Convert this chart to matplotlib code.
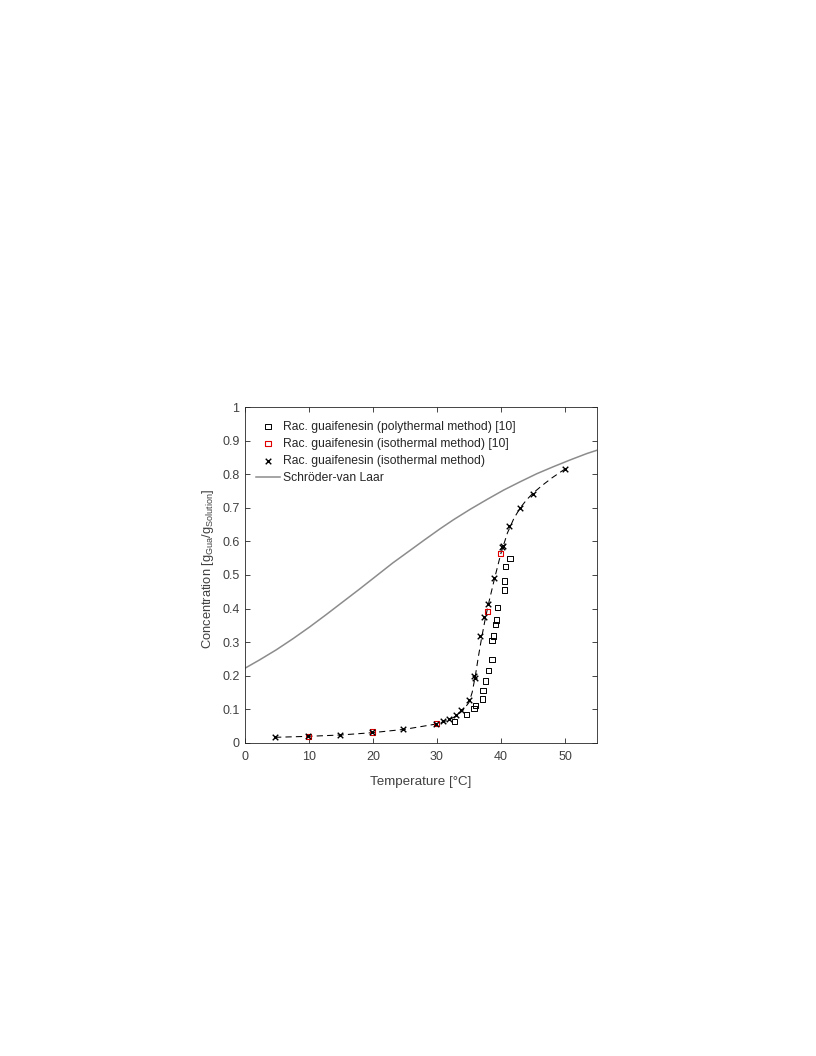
import matplotlib

matplotlib.use("Agg")
import matplotlib.pyplot as plt

plt.rcParams["font.family"] = ["Liberation Sans", "DejaVu Sans"]
plt.rcParams["mathtext.fontset"] = "custom"
plt.rcParams["mathtext.rm"] = "Liberation Sans"
plt.rcParams["mathtext.it"] = "Liberation Sans"

# polythermal method [10], black open squares
poly_T = [32.8, 34.6, 35.8, 36.0, 37.1, 37.2, 37.6, 38.0, 38.6, 38.6, 38.8,
          39.1, 39.3, 39.4, 40.5, 40.5, 40.7, 41.4]
poly_c = [0.062, 0.083, 0.102, 0.112, 0.130, 0.156, 0.184, 0.216, 0.248, 0.305,
          0.318, 0.352, 0.366, 0.404, 0.455, 0.482, 0.525, 0.549]

# isothermal method [10], red open squares
iso_ref_T = [9.9, 19.9, 29.9, 37.9, 39.9]
iso_ref_c = [0.019, 0.032, 0.057, 0.390, 0.564]

# isothermal method (this work), crosses
iso_T = [4.7, 9.9, 14.8, 19.9, 24.7, 29.9, 31.0, 31.9, 32.9, 33.8, 35.05, 35.8,
         35.9, 36.8, 37.4, 37.9, 38.9, 40.2, 40.3, 41.3, 42.9, 45.0, 50.0]
iso_c = [0.016, 0.019, 0.024, 0.032, 0.041, 0.057, 0.064, 0.071, 0.083, 0.097,
         0.126, 0.198, 0.193, 0.318, 0.375, 0.413, 0.491, 0.582, 0.587, 0.647,
         0.699, 0.742, 0.816]

# dashed guide line through the isothermal data
fit_T = [4.7, 10, 15, 20, 25, 30, 32, 33, 34, 35, 35.5, 36, 36.5, 37, 37.5,
         38, 39, 40, 41, 42, 43, 44, 45, 46.5, 48, 50]
fit_c = [0.016, 0.019, 0.023, 0.030, 0.040, 0.056, 0.069, 0.080, 0.095, 0.120,
         0.150, 0.200, 0.260, 0.315, 0.365, 0.410, 0.490, 0.565, 0.625, 0.668,
         0.700, 0.724, 0.744, 0.768, 0.790, 0.816]

# Schroeder-van Laar ideal solubility
svl_T = [0, 2.3, 4.9, 7.5, 10.1, 12.7, 15.3, 17.9, 20.5, 23.1, 25.7, 28.0,
         30.5, 32.6, 35.2, 37.8, 40.4, 43.0, 45.6, 48.2, 50.8, 53.4, 55]
svl_c = [0.222, 0.247, 0.277, 0.310, 0.345, 0.382, 0.420, 0.458, 0.497, 0.536,
         0.572, 0.604, 0.638, 0.665, 0.696, 0.725, 0.753, 0.778, 0.802, 0.823,
         0.843, 0.862, 0.872]

AX_COLOR = "#262626"
TEXT_COLOR = "#404040"

fig = plt.figure(figsize=(8.16, 10.56), dpi=100)
ax = fig.add_axes([0.3002, 0.2967, 0.4314, 0.3176])

ax.plot(fit_T, fit_c, color="black", linestyle=(0, (6, 4)), linewidth=0.75, zorder=2)
ax.plot(svl_T, svl_c, color="#8c8c8c", linewidth=1.1, zorder=2)

h_poly = ax.scatter(poly_T, poly_c, marker="s", s=14, facecolor="none",
                    edgecolor="black", linewidth=0.7, zorder=3)
h_ref = ax.scatter(iso_ref_T, iso_ref_c, marker="s", s=14, facecolor="none",
                   edgecolor="#e00000", linewidth=0.8, zorder=3)
h_iso = ax.scatter(iso_T, iso_c, marker="x", s=16, color="black",
                   linewidth=1.0, zorder=4)
h_svl, = ax.plot([], [], color="#8c8c8c", linewidth=1.1)

ax.set_xlim(0, 55)
ax.set_ylim(0, 1)
ax.set_xticks([0, 10, 20, 30, 40, 50])
ax.set_yticks([0, 0.1, 0.2, 0.3, 0.4, 0.5, 0.6, 0.7, 0.8, 0.9, 1])
ax.set_yticklabels(["0", "0.1", "0.2", "0.3", "0.4", "0.5", "0.6", "0.7",
                    "0.8", "0.9", "1"])
ax.tick_params(direction="in", top=True, right=True, length=3.5, width=0.6,
               colors=AX_COLOR, labelcolor=TEXT_COLOR, labelsize=9)
ax.tick_params(axis="x", pad=6)
ax.tick_params(axis="y", pad=4)
for spine in ax.spines.values():
    spine.set_color(AX_COLOR)
    spine.set_linewidth(0.6)

ax.set_xlabel("Temperature [°C]", fontsize=9.6, color=TEXT_COLOR, labelpad=9)
ax.set_ylabel(r"Concentration [g$_{\mathrm{Gua}}$/g$_{\mathrm{Solution}}$]",
              fontsize=9.3, color=TEXT_COLOR)
ax.yaxis.set_label_coords(-0.082, 0.52)

leg = ax.legend(
    [h_poly, h_ref, h_iso, h_svl],
    ["Rac. guaifenesin (polythermal method) [10]",
     "Rac. guaifenesin (isothermal method) [10]",
     "Rac. guaifenesin (isothermal method)",
     "Schröder-van Laar"],
    loc="upper left", bbox_to_anchor=(0.0, 0.993), frameon=False,
    fontsize=8.75, handlelength=2.0, handletextpad=0.27, labelspacing=0.42,
    borderpad=0.4, borderaxespad=0.5,
)
for text in leg.get_texts():
    text.set_color(AX_COLOR)

fig.savefig("out.png", dpi=100)
